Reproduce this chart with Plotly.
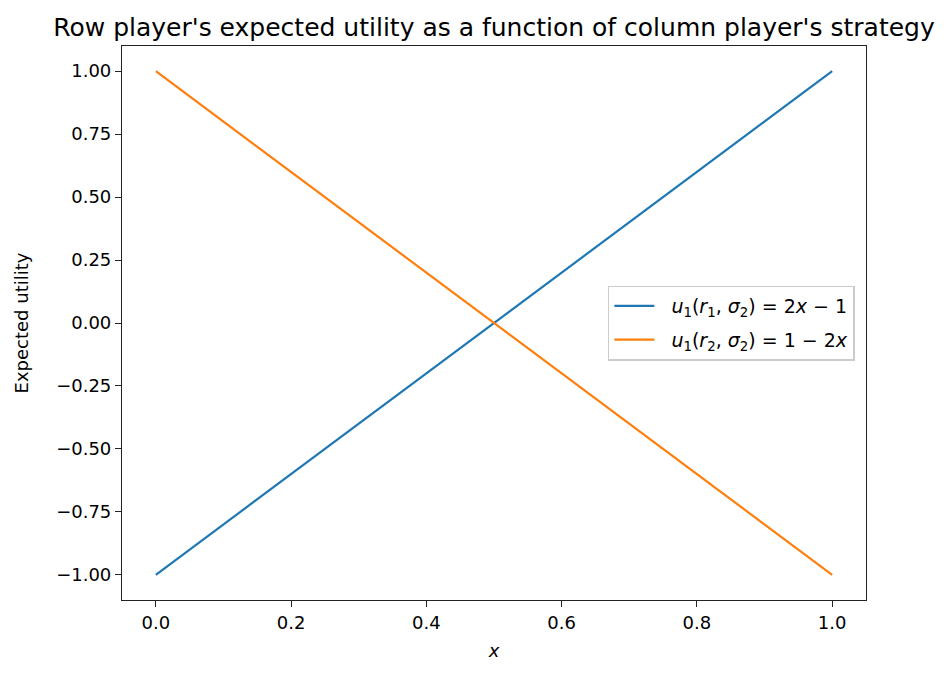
import plotly.graph_objects as go

# Data
x_vals = [0.0, 1.0]
u_r1 = [-1.0, 1.0]
u_r2 = [1.0, -1.0]
x_ticks = [0.0, 0.2, 0.4, 0.6, 0.8, 1.0]
x_tick_text = ['0.0', '0.2', '0.4', '0.6', '0.8', '1.0']
y_ticks = [-1.0, -0.75, -0.5, -0.25, 0.0, 0.25, 0.5, 0.75, 1.0]
y_tick_text = ['\u22121.00', '\u22120.75', '\u22120.50', '\u22120.25', '0.00', '0.25', '0.50', '0.75', '1.00']

fig = go.Figure()
fig.add_trace(go.Scatter(x=x_vals, y=u_r1, mode='lines', legendgroup='a',
                         name='&nbsp;&nbsp;<i>u</i><sub>1</sub>(<i>r</i><sub>1</sub>, <i>\u03c3</i><sub>2</sub>) = 2<i>x</i> \u2212 1',
                         line=dict(color='#1f77b4', width=2.2)))
fig.add_trace(go.Scatter(x=x_vals, y=u_r2, mode='lines', legendgroup='b',
                         name='&nbsp;&nbsp;<i>u</i><sub>1</sub>(<i>r</i><sub>2</sub>, <i>\u03c3</i><sub>2</sub>) = 1 \u2212 2<i>x</i>',
                         line=dict(color='#ff7f0e', width=2.2)))

axis_style = dict(showgrid=False, zeroline=False, showline=True, linecolor='#222222',
                  linewidth=1.2, mirror=True, ticks='outside', ticklen=6,
                  tickcolor='#222222', tickfont=dict(size=18, color='black'))

fig.update_xaxes(range=[-0.05, 1.05], tickvals=x_ticks, ticktext=x_tick_text,
                 title=dict(text='<i>x</i>', font=dict(size=18, color='black'), standoff=12),
                 **axis_style)
fig.update_yaxes(range=[-1.1, 1.1], tickvals=y_ticks, ticktext=y_tick_text,
                 title=dict(text='Expected utility', font=dict(size=18, color='black'), standoff=22),
                 **axis_style)

fig.update_layout(
    width=941, height=670,
    margin=dict(l=114, r=83, t=38, b=78),
    paper_bgcolor='white', plot_bgcolor='white',
    font=dict(family='DejaVu Sans', color='black'),
    title=dict(text="Row player's expected utility as a function of column player's strategy",
               x=0.5, xref='paper', xanchor='center', y=0.972, yref='container', yanchor='middle',
               font=dict(size=25, color='black')),
    legend=dict(x=0.985, y=0.5, xanchor='right', yanchor='middle',
                bordercolor='#cccccc', borderwidth=1.5, bgcolor='rgba(255,255,255,0.8)',
                tracegroupgap=6, itemwidth=40,
                font=dict(size=19, color='black')),
)

fig.write_html('out.html')
